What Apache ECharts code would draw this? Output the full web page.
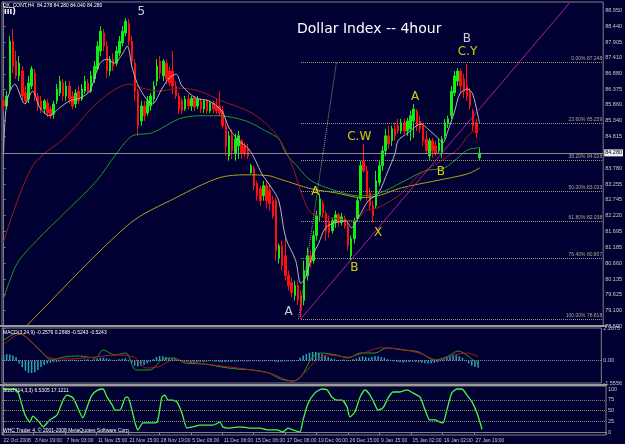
<!DOCTYPE html>
<html><head><meta charset="utf-8">
<script src="https://cdn.jsdelivr.net/npm/echarts@6/dist/echarts.min.js"></script>
<style>html,body{margin:0;padding:0;background:#000033;}#c{width:625px;height:444px;}</style>
</head><body><div id="c"></div>
<script>
// ---------- data ----------
const N = 192;             // bar slots across the plot width
const ticksEvery = 10;
const dateTicks = ['22 Oct 2008','3 Nov 19:00','7 Nov 03:00','11 Nov 15:00','21 Nov 15:00','28 Nov 19:00','5 Dec 06:00','11 Dec 06:00','15 Dec 06:00','17 Dec 06:00','19 Dec 06:00','26 Dec 15:00','9 Jan 15:00','15 Jan 02:00','19 Jan 02:00','27 Jan 19:00'];
const priceTicks = [78.590,79.100,79.625,80.135,80.660,81.185,81.695,82.220,82.745,83.255,83.780,84.815,85.340,85.860,86.375,86.880,87.410,87.905,88.440,88.950];
const macdTicks = [-1.5556, 0, 2.2675];
const stochTicks = [0,25,50,75,100];
const currentPrice = 84.28;
// [open, close, low, high]
const ohlc = [
[85.99,85.82,85.66,86.15],[85.82,86.15,85.72,86.31],[86.38,87.95,86.31,88.12],[87.95,87.13,86.90,88.35],[87.30,86.81,86.71,87.63],
[86.81,87.23,86.64,87.46],[86.97,86.15,85.99,87.13],[86.25,85.99,85.89,86.48],[86.05,86.58,85.92,86.81],[86.48,87.04,86.38,87.13],
[86.90,86.15,85.99,87.04],[86.15,85.82,85.66,86.25],[85.99,85.72,85.59,86.15],[85.72,85.99,85.56,86.05],[85.92,85.59,85.46,86.05],
[85.72,85.50,85.40,85.82],[85.56,85.89,85.40,85.99],[85.99,86.38,85.89,86.54],[86.25,86.64,86.15,86.81],[86.58,86.15,85.99,86.71],
[86.15,86.48,85.99,86.64],[86.48,86.05,85.89,86.64],[86.15,85.82,85.72,86.31],[85.89,86.25,85.76,86.38],[86.31,85.99,85.89,86.48],
[86.05,86.38,85.99,86.54],[86.31,86.64,86.22,86.81],[86.58,86.31,86.22,86.71],[86.31,86.81,86.25,86.97],[86.71,87.13,86.58,87.30],
[87.04,87.79,86.97,87.95],[87.63,88.28,87.46,88.45],[88.22,87.79,87.63,88.35],[87.79,86.97,86.74,87.95],[86.97,87.36,86.81,87.46],
[87.36,87.13,86.97,87.56],[87.23,87.63,87.13,87.79],[87.56,87.95,87.46,88.12],[87.89,88.28,87.79,88.45],[88.22,88.61,88.12,88.71],
[88.54,87.95,87.79,88.68],[87.95,87.30,87.13,88.12],[87.23,86.31,85.99,87.36],[86.31,85.17,84.84,86.38],[85.33,85.82,85.17,85.99],
[85.82,85.50,85.33,85.99],[85.59,85.99,85.50,86.15],[85.82,86.15,85.66,86.25],[86.05,86.48,85.92,86.64],[86.64,87.13,86.48,87.36],
[87.30,86.90,86.71,87.46],[86.81,87.30,86.64,87.36],[87.23,86.71,86.54,87.36],[86.97,86.58,86.48,87.13],[86.97,86.48,86.22,87.63],
[86.48,86.15,86.05,86.64],[86.15,85.72,85.56,86.25],[85.99,85.66,85.56,86.08],[85.72,86.05,85.66,86.15],[86.05,85.82,85.72,86.22],
[85.82,86.08,85.66,86.15],[86.08,85.79,85.66,86.15],[85.82,86.05,85.72,86.15],[85.99,85.72,85.59,86.08],[85.72,85.99,85.59,86.05],
[85.99,85.66,85.56,86.05],[85.66,85.92,85.59,85.99],[85.92,85.72,85.59,85.99],[85.82,85.66,85.56,86.05],[85.82,85.59,85.50,86.31],
[85.66,85.17,85.07,85.82],[85.17,84.51,84.18,85.40],[84.18,84.84,84.02,85.00],[84.84,84.35,84.08,85.07],[84.28,84.74,84.02,84.91],
[84.51,84.84,84.08,85.00],[84.68,84.28,84.08,84.74],[84.51,84.25,84.15,84.61],[84.41,84.18,84.08,84.58],[83.63,83.86,83.59,83.92],
[83.76,83.20,83.04,83.86],[83.27,82.87,82.71,83.36],[83.10,82.71,82.54,83.20],[82.87,83.20,82.71,83.36],[83.20,82.71,82.45,83.36],
[83.04,82.61,82.38,83.27],[82.71,82.22,82.12,82.87],[82.71,81.07,80.74,82.81],[80.81,81.23,80.64,81.30],[81.23,80.58,80.41,81.40],
[80.90,80.25,80.08,81.49],[80.25,79.92,79.76,80.41],[80.02,79.69,79.53,80.18],[79.59,79.92,79.43,80.08],[79.92,79.43,79.27,80.08],
[79.59,79.10,78.87,79.76],[79.43,80.41,79.27,80.74],[80.25,80.90,80.08,81.17],[80.90,80.67,80.51,81.07],[80.74,81.56,80.64,81.72],
[81.56,82.22,81.40,82.38],[82.22,82.77,82.05,82.94],[82.61,82.31,82.15,82.71],[82.28,81.72,81.40,82.38],[81.99,81.66,81.49,82.22],
[81.72,82.05,81.63,82.15],[81.99,82.25,81.82,82.38],[82.25,81.99,81.86,82.31],[81.99,82.18,81.89,82.31],[82.12,81.89,81.79,82.22],
[81.86,81.23,81.07,81.99],[80.90,81.46,80.74,81.56],[81.46,82.05,81.30,82.15],[82.12,82.71,82.05,82.81],[82.77,83.86,82.71,84.02],
[84.02,83.69,83.63,84.58],[83.69,82.87,82.71,83.86],[82.97,82.54,82.38,83.13],[82.54,82.22,81.99,82.71],[82.54,83.36,82.45,83.69],
[83.30,83.86,83.20,84.02],[83.86,84.35,83.69,84.51],[84.35,84.84,84.18,85.07],[84.84,84.58,84.41,85.17],[84.68,85.07,84.51,85.17],
[85.07,84.84,84.68,85.27],[85.17,85.00,84.91,85.40],[85.00,85.27,84.91,85.40],[85.27,85.00,84.91,85.40],[85.00,85.33,84.84,85.43],
[85.07,85.50,84.68,85.66],[85.33,85.72,84.77,85.89],[85.66,85.17,85.00,85.72],[85.33,85.07,84.94,85.50],[85.17,84.68,84.51,85.27],
[84.74,84.35,84.25,85.00],[84.18,84.68,84.02,84.77],[84.68,84.35,84.12,84.77],[84.51,84.28,84.18,84.68],[84.35,84.61,84.25,84.74],
[84.28,84.74,84.12,84.84],[84.84,85.27,84.74,85.40],[85.23,85.40,85.10,85.50],[85.50,86.31,85.40,86.48],[86.25,86.81,86.15,86.97],
[86.64,86.97,86.48,87.07],[86.97,86.48,86.22,87.04],[86.71,86.31,86.08,86.87],[86.48,86.15,85.99,87.20],[86.31,85.82,85.72,86.41],
[85.66,85.17,85.00,85.72],[85.27,84.94,84.77,85.40],[84.12,84.28,84.02,84.45]
];
// moving averages: [bar index, price]
const maFast = [[0,84.30],[1.1,85.99],[3.6,86.54],[6.8,85.89],[9.3,86.31],[11.6,85.76],[14.7,85.50],[17.9,85.76],[21.1,85.99],[24.3,86.08],[27.5,86.31],[30.6,87.20],[32.9,87.36],[35.4,87.23],[37.9,87.53],[39.5,87.79],[41.1,87.07],[43.4,86.41],[47.5,85.89],[50.7,86.41],[52.9,86.74],[55.1,86.87],[57.0,86.48],[61.5,86.08],[65.6,85.99],[69.7,85.66],[72.0,85.10],[75.1,84.68],[78.3,84.41],[80.5,84.02],[82.5,83.59],[85.6,83.13],[87.9,82.71],[90.1,81.49],[93.3,80.74],[94.9,79.99],[96.4,80.18],[98.4,80.84],[100.6,81.30],[102.8,81.82],[106.0,81.99],[109.2,82.05],[111.1,81.82],[113.3,82.15],[116.5,82.71],[119.6,82.94],[122.8,83.69],[125.0,84.25],[126.0,84.68],[129.2,84.94],[133.3,85.23],[135.5,85.07],[138.7,84.77],[140.3,84.61],[141.9,85.00],[144.1,85.66],[145.7,86.22],[148.2,86.38],[149.8,86.22],[151.4,85.56],[152.0,85.27]];
const maMid = [[0,81.36],[9.3,83.85],[20.2,84.84],[30.6,85.99],[40.2,86.54],[44.3,86.41],[49.7,86.31],[56.1,86.41],[62.4,86.31],[69.7,85.99],[79.3,85.59],[86.9,84.91],[92.0,83.92],[95.2,82.94],[98.3,82.31],[106.0,82.12],[112.3,82.05],[115.5,82.38],[119.6,82.48],[127.0,82.94],[132.4,83.53],[139.7,84.02],[145.1,84.41],[148.9,84.91],[152.1,85.07]];
const maSlow = [[0,79.49],[4.3,80.64],[10.6,81.40],[20.2,82.38],[29.7,83.36],[36.0,84.25],[41.1,84.84],[47.5,84.94],[56.1,85.40],[62.4,85.50],[68.8,85.50],[77.4,85.33],[83.7,85.00],[87.9,84.74],[90.1,84.28],[94.2,83.79],[98.3,83.36],[106.0,83.04],[113.3,82.87],[119.6,82.94],[127.0,83.30],[134.6,83.69],[140.9,83.79],[145.1,84.12],[148.2,84.38],[152.1,84.45]];
const maLong = [[0,77.79],[9.0,78.77],[40.2,81.95],[55.1,82.81],[68.8,83.46],[77.4,83.56],[84.7,83.53],[87.9,83.43],[98.3,83.10],[106.0,82.97],[114.2,82.81],[119.6,82.87],[127.0,83.13],[137.8,83.36],[148.2,83.59],[152.1,83.79]];
// fibonacci retracement
const fibLevels = [87.248,85.259,84.028,83.033,82.038,80.807,78.818];
const fibNames = ['0.00% 87.248','23.60% 85.259','38.20% 84.028','50.00% 83.033','61.80% 82.038','76.40% 80.807','100.00% 78.818'];
const fibFrom = 95;
const fibDiag = [[94.2,78.818],[106.3,87.248]];
const trendPts = [[94.9,78.82],[184,89.60]];
// wave labels
const waveText  = ['5','B','C.Y','A','C.W','B','A','X','B','A'];
const waveIdx   = [44.0,148.0,148.2,131.4,113.6,139.7,99.6,119.6,112.0,91.0];
const wavePrice = [88.91,88.02,87.60,86.12,84.80,83.65,82.99,81.65,80.50,79.05];
const waveColor = ['#ffffff','#ffffff','#ffff00','#ffff00','#ffff00','#ffff00','#ffff00','#ffff00','#ffff00','#ffffff'];
// MACD
const macdHist = [0.40,0.45,0.42,0.35,0.25,
-0.20,-0.45,-0.70,-0.85,-0.86,-0.80,-0.65,-0.45,-0.30,
-0.20,-0.15,-0.10,-0.10,-0.05,
0.05,-0.05,0.05,0.08,0.05,-0.05,0.05,0.08,0.10,0.05,0.10,0.15,0.20,
0.20,0.15,0.10,0.05,0.05,0.10,0.12,0.15,
-0.05,-0.20,-0.35,-0.40,-0.35,-0.30,-0.20,-0.10,
0.10,0.25,0.32,0.30,0.25,
0.20,0.15,0.10,0.05,0.05,
-0.05,-0.10,-0.15,-0.15,-0.12,-0.10,-0.10,-0.08,-0.05,
-0.05,-0.08,-0.10,-0.12,-0.10,-0.08,-0.10,-0.08,-0.06,-0.05,-0.05,-0.06,-0.05,-0.05,-0.04,-0.05,-0.06,-0.05,-0.04,-0.05,-0.08,-0.10,-0.08,-0.06,-0.05,-0.04,-0.05,0.05,
0.20,0.35,0.45,0.55,0.60,0.60,0.55,0.45,0.35,
0.25,0.15,0.10,0.05,0.05,0.08,0.05,0.05,0.10,
0.15,0.25,0.30,0.25,0.20,0.25,0.30,0.30,0.25,0.20,0.10,
0.05,-0.05,-0.10,-0.12,-0.15,-0.12,-0.10,-0.08,-0.10,-0.12,-0.15,-0.18,-0.20,-0.18,-0.15,-0.10,-0.05,
0.10,0.25,0.35,0.40,0.38,0.30,0.20,
-0.05,-0.20,-0.35,-0.45,-0.50];
const macdMain = [[0,1.43],[4.6,1.92],[11.6,0.74],[15.4,0.04],[19.2,0.25],[24.3,0.32],[29.4,0.18],[31.9,0.74],[35.7,0.39],[39.2,0.53],[42.4,-0.65],[46.9,-0.65],[50.7,0.04],[54.5,0.18],[58.3,-0.17],[64.7,-0.24],[69.7,-0.44],[74.8,-0.58],[79.9,-0.65],[85.0,-0.86],[88.8,-1.28],[92.6,-1.42],[95.2,-1.14],[99.0,0.25],[101.5,0.53],[106.6,0.39],[110.4,0.18],[114.2,0.53],[119.0,0.53],[122.8,0.88],[127.9,0.74],[133.0,0.60],[138.1,0.04],[141.9,0.25],[145.7,0.67],[148.2,0.40],[152.1,-0.26]];
const macdSignal = [[0,1.08],[5.2,1.85],[9.0,1.29],[14.1,0.25],[19.2,0.11],[29.4,0.25],[35.7,0.39],[41.8,0.25],[45.6,-0.51],[49.4,-0.44],[54.5,0.04],[62.1,-0.17],[74.8,-0.51],[85.0,-0.86],[92.6,-1.42],[96.4,-0.86],[100.2,0.04],[104.1,0.39],[110.4,0.25],[115.5,0.53],[120.3,0.88],[126.6,0.81],[133.0,0.53],[139.3,0.04],[144.4,0.39],[148.2,0.53],[152.1,0.27]];
// Stochastic %K
const stochK = [[0,100],[3.6,100],[4.6,93],[6.8,40],[8.4,23],[9.3,37],[11.6,21],[12.5,12],[14.7,28],[17.0,40],[18.9,74],[20.2,86],[22.1,79],[23.6,56],[25.2,33],[26.8,63],[28.1,86],[30.0,98],[31.6,100],[32.9,81],[34.5,63],[35.4,51],[37.0,51],[38.6,79],[39.5,81],[40.8,51],[41.8,21],[42.7,5],[44.3,21],[46.5,21],[48.8,23],[50.3,81],[51.3,86],[52.3,74],[53.8,74],[55.1,70],[56.7,44],[58.3,9],[60.2,12],[62.4,16],[64.7,16],[66.6,16],[68.8,23],[69.7,12],[72.0,9],[75.1,12],[78.3,9],[81.5,9],[83.7,5],[86.9,5],[88.8,0],[90.4,9],[92.0,5],[94.2,0],[95.2,28],[96.8,67],[99.0,91],[101.2,100],[102.8,98],[104.4,81],[106.0,74],[107.6,74],[109.2,58],[110.1,35],[111.7,47],[113.3,81],[114.9,98],[116.5,86],[118.1,63],[119.0,51],[120.6,56],[122.2,79],[123.8,93],[126.0,93],[128.2,98],[130.1,91],[132.4,81],[134.0,51],[135.5,28],[137.1,28],[138.7,23],[139.7,21],[140.9,51],[142.5,91],[144.1,100],[145.7,100],[147.3,86],[148.9,70],[150.5,44],[152.1,6.5]];
const stochLevels = [25,50,75];
const headerText = 'DX_CONT,H4  84.278 84.280 84.040 84.280';
const macdText = 'MACD(3,24,9) -0.2576 0.2668 -0.5243 -0.5243';
const stochText = 'Stoch(14,3,3) 6.5305 17.1211';
const copyText = 'WHC Trader 4, \u00a9 2001-2008 MetaQuotes Software Corp.';

// ---------- chart ----------
const cats = Array.from({length: N}, (_, i) => String(i));
const isTick = i => i % ticksEvery === 0 && i / ticksEvery < dateTicks.length;
const BG = '#000033', FRAME = '#808080', TXT = '#c8c8c8';
const FONT = 'Liberation Sans';
const chart = echarts.init(document.getElementById('c'), null, {width: 625, height: 444});

function catAxis(g, showLabels) {
  return {type: 'category', gridIndex: g, data: cats, boundaryGap: true,
    axisLine: {show: showLabels, lineStyle: {color: FRAME}},
    axisTick: {show: showLabels, interval: (i) => isTick(i), length: 3, lineStyle: {color: FRAME}},
    axisLabel: {show: showLabels, interval: (i) => isTick(i), align: 'left', margin: 3,
      color: TXT, fontSize: 5, fontFamily: FONT,
      formatter: (v, i) => isTick(i) ? dateTicks[i / ticksEvery] : ''},
    splitLine: {show: false}};
}
function valAxisX(g) {
  return {type: 'value', gridIndex: g, min: -0.5, max: N - 0.5, show: false, splitLine: {show: false}};
}
function yAx(g, min, max, ticks, fmt) {
  return {type: 'value', gridIndex: g, position: 'right', min, max, scale: true,
    splitLine: {show: false},
    axisLine: {show: true, lineStyle: {color: FRAME}},
    axisTick: {show: true, length: 2, customValues: ticks, lineStyle: {color: FRAME}},
    axisLabel: {show: true, customValues: ticks, formatter: fmt, color: TXT, fontSize: 5.5, fontFamily: FONT, margin: 2}};
}
function line(data, color, xi, yi, extra) {
  return Object.assign({type: 'line', xAxisIndex: xi, yAxisIndex: yi, data, symbol: 'none', showSymbol: false,
    smooth: 0.3, silent: true, clip: true, lineStyle: {color, width: 1}}, extra || {});
}

const option = {
  backgroundColor: BG,
  animation: false,
  textStyle: {fontFamily: FONT},
  grid: [
    {left: 2, right: 19, top: 2, height: 324, show: true, borderColor: FRAME, borderWidth: 1, backgroundColor: BG},
    {left: 2, right: 19, top: 328, height: 55, show: true, borderColor: FRAME, borderWidth: 1, backgroundColor: BG},
    {left: 2, right: 19, top: 386, height: 49, show: true, borderColor: FRAME, borderWidth: 1, backgroundColor: BG}
  ],
  xAxis: [catAxis(0, false), valAxisX(0), catAxis(1, false), valAxisX(1), catAxis(2, true), valAxisX(2)],
  yAxis: [
    yAx(0, 78.59, 89.24, priceTicks, v => v.toFixed(3)),
    yAx(1, -1.5556, 2.2675, macdTicks, v => v === 0 ? '0.00' : v.toFixed(4)),
    yAx(2, -7, 107, stochTicks, v => String(v))
  ],
  graphic: [
    {type: 'rect', left: 0, top: 325, shape: {width: 607, height: 2}, style: {fill: '#9a9a9a'}, z: 50},
    {type: 'rect', left: 0, top: 384, shape: {width: 607, height: 2}, style: {fill: '#9a9a9a'}, z: 50},
    {type: 'text', left: 3, top: 3, style: {text: headerText, fill: '#ffffff', font: '5px ' + FONT}, z: 60},
    {type: 'text', left: 4, top: 8, style: {text: '\u00ef\u00ef\u00ef)', fill: '#ffffff', font: 'bold 8px DejaVu Sans'}, z: 60},
    {type: 'text', left: 297, top: 22, style: {text: 'Dollar Index -- 4hour', fill: '#ffffff', font: '14px DejaVu Sans'}, z: 60},
    {type: 'text', left: 3, top: 330, style: {text: macdText, fill: '#ffffff', font: '5px ' + FONT}, z: 60},
    {type: 'text', left: 3, top: 388, style: {text: stochText, fill: '#ffffff', font: '5px ' + FONT}, z: 60},
    {type: 'text', left: 3, top: 428, style: {text: copyText, fill: '#ffffff', font: '5px ' + FONT}, z: 60}
  ],
  series: [
    {type: 'candlestick', xAxisIndex: 0, yAxisIndex: 0, data: ohlc, barWidth: 2, silent: true,
      itemStyle: {color: '#10f010', color0: '#ff1010', borderColor: '#10f010', borderColor0: '#ff1010', borderWidth: 1},
      markLine: {symbol: 'none', silent: true, animation: false,
        lineStyle: {color: '#8c8c8c', type: 'solid', width: 1},
        label: {show: true, position: 'end', formatter: () => currentPrice.toFixed(3), color: '#000000',
          backgroundColor: '#f0f0f0', padding: [1, 1, 0, 1], fontSize: 5.5, fontFamily: FONT, distance: 1},
        data: [{yAxis: currentPrice}]}},
    line(maLong, '#b0a010', 1, 0),
    line(maSlow, '#1f9a1f', 1, 0),
    line(maMid, '#a01818', 1, 0),
    line(maFast, '#b8b8b8', 1, 0),
    line(fibDiag, '#9a9a78', 1, 0, {smooth: false, lineStyle: {color: '#9a9a78', width: 1, type: 'dotted'},
      markLine: {symbol: 'none', silent: true, animation: false,
        lineStyle: {color: '#9a9a78', type: 'dotted', width: 1},
        label: {show: true, position: 'insideEndTop', formatter: '{b}', color: '#a8a890', fontSize: 5, fontFamily: FONT, distance: 1},
        data: fibLevels.map((lv, k) => [{coord: [fibFrom, lv], name: fibNames[k]}, {coord: [N - 0.5, lv]}])}}),
    line(trendPts, '#b0209a', 1, 0, {smooth: false}),
    {type: 'scatter', xAxisIndex: 1, yAxisIndex: 0, symbol: 'circle', symbolSize: 1, silent: true, z: 20,
      itemStyle: {color: 'rgba(0,0,0,0)'},
      label: {show: true, position: 'inside', formatter: '{b}', fontSize: 12, fontFamily: 'DejaVu Sans'},
      data: waveText.map((t, k) => ({value: [waveIdx[k], wavePrice[k]], name: t, label: {color: waveColor[k]}}))},
    {type: 'bar', xAxisIndex: 2, yAxisIndex: 1, data: macdHist, barWidth: 1.5, silent: true,
      itemStyle: {color: '#2aa6b8'},
      markLine: {symbol: 'none', silent: true, animation: false, label: {show: false},
        lineStyle: {color: '#8a8a8a', type: 'dotted', width: 1}, data: [{yAxis: 0}]}},
    line(macdMain, '#22a022', 3, 1),
    line(macdSignal, '#b01818', 3, 1),
    line(stochK, '#40ff40', 5, 2, {smooth: 0.2, lineStyle: {color: '#40ff40', width: 1.3},
      markLine: {symbol: 'none', silent: true, animation: false, label: {show: false},
        lineStyle: {color: '#8a8a50', type: 'dotted', width: 1},
        data: stochLevels.map(v => ({yAxis: v}))}})
  ]
};
chart.setOption(option);
</script>
</body></html>
